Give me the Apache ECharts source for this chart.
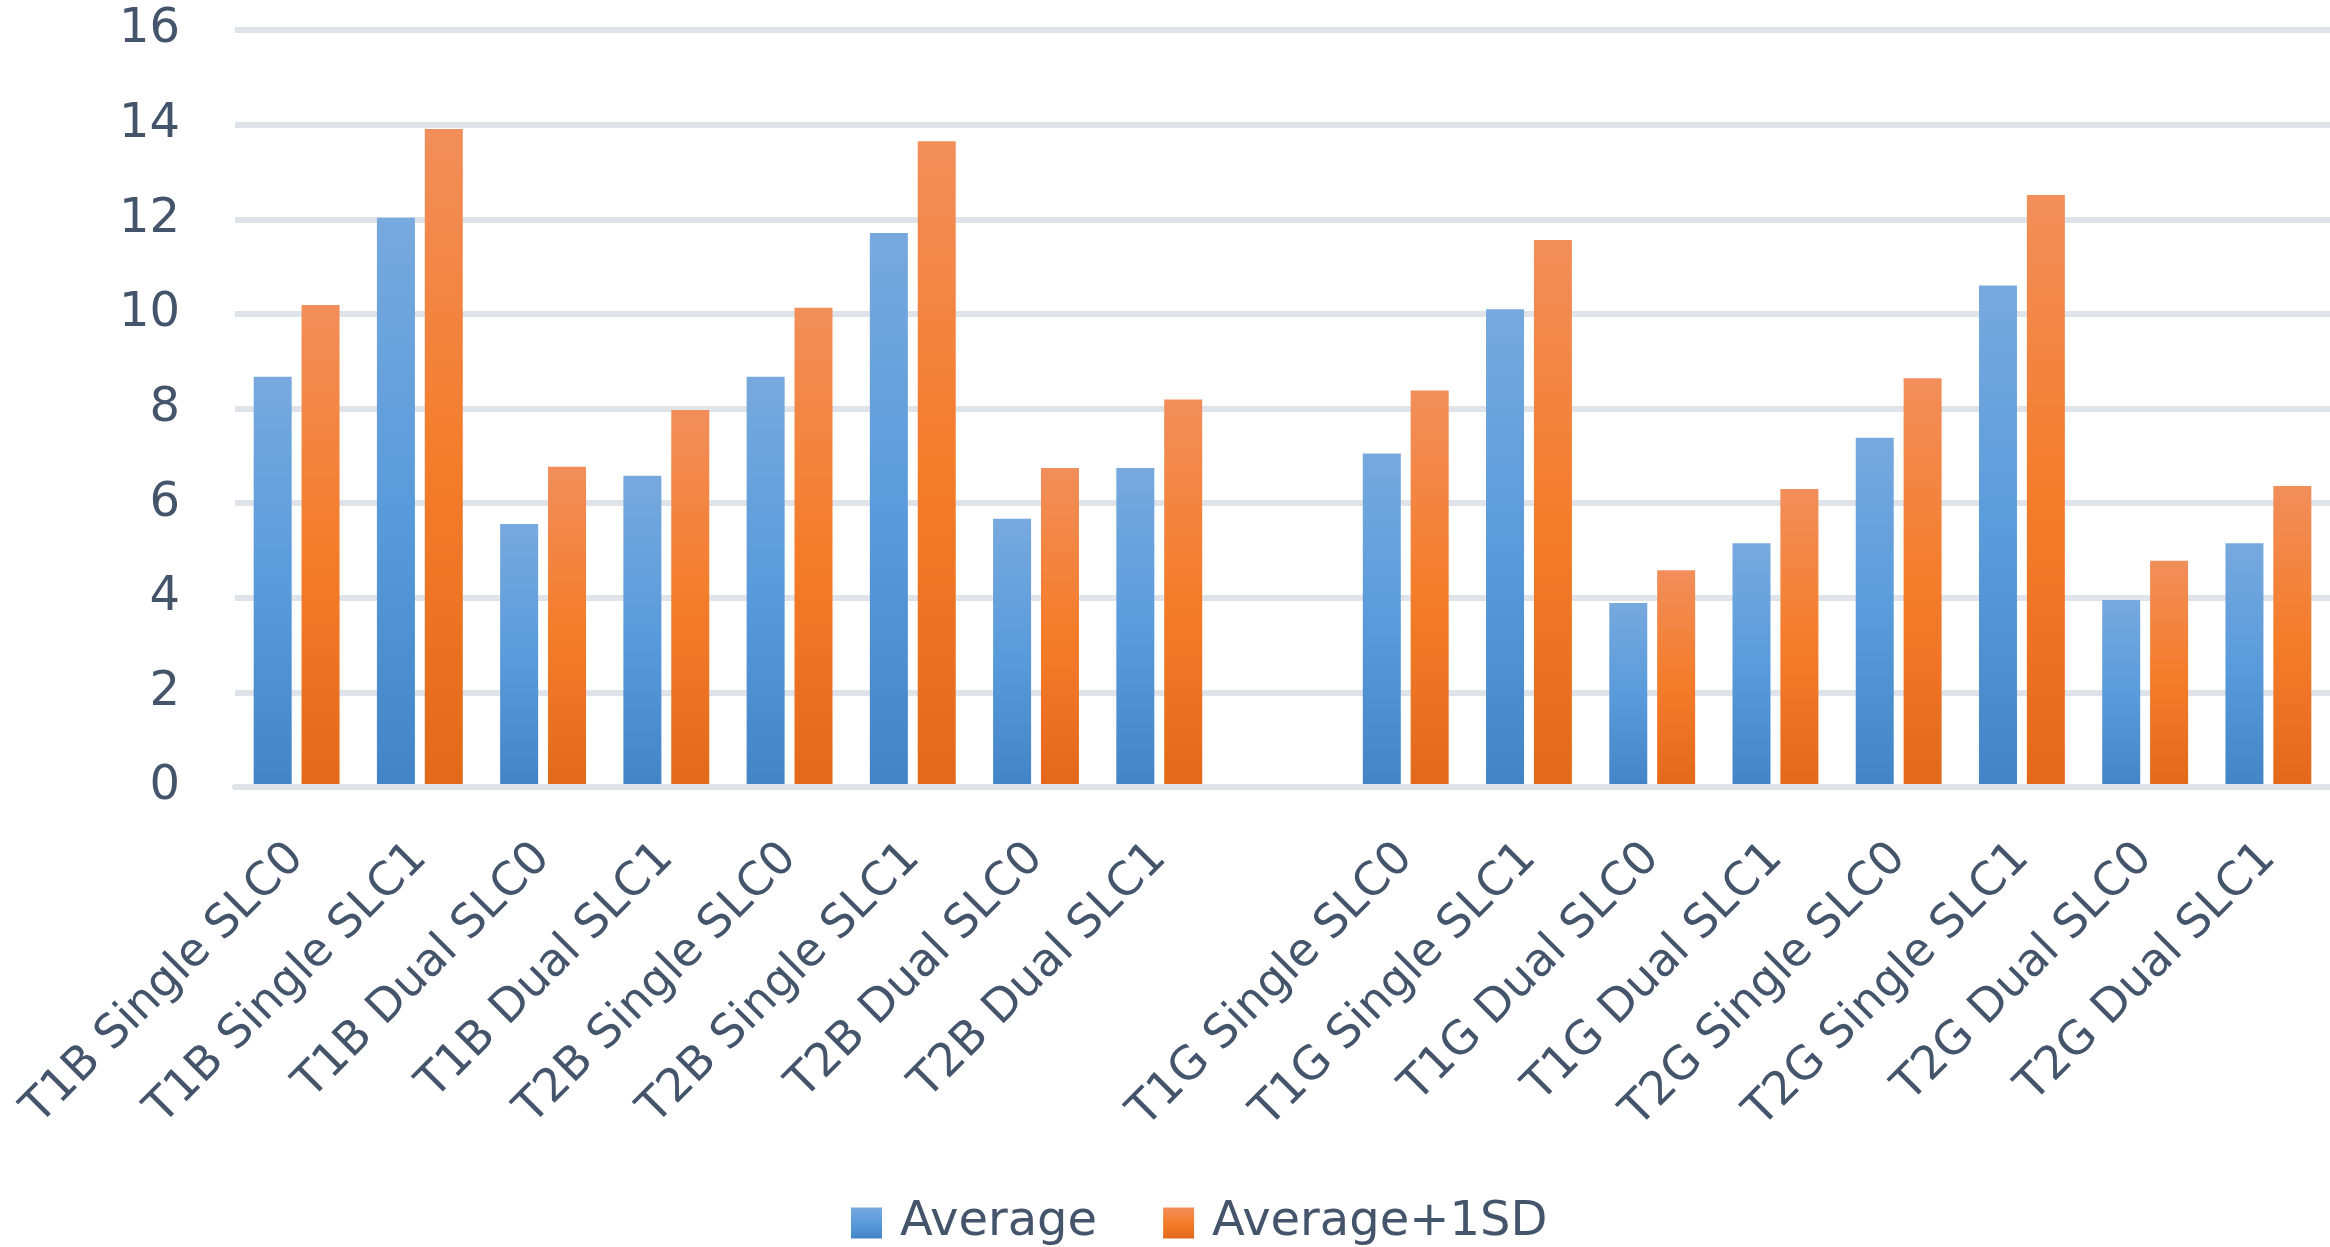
<!DOCTYPE html>
<html>
<head>
<meta charset="utf-8">
<title>Average vs Average+1SD</title>
<script src="https://cdn.jsdelivr.net/npm/echarts@6/dist/echarts.min.js"></script>
<style>
  html, body { margin: 0; padding: 0; background: #ffffff; }
  #chart { width: 2330px; height: 1247px; }
</style>
</head>
<body>
<div id="chart"></div>
<script>
// Categories: B group, an empty spacer slot, then G group
const categories = [
  'T1B Single SLC0', 'T1B Single SLC1', 'T1B Dual SLC0', 'T1B Dual SLC1',
  'T2B Single SLC0', 'T2B Single SLC1', 'T2B Dual SLC0', 'T2B Dual SLC1',
  '',
  'T1G Single SLC0', 'T1G Single SLC1', 'T1G Dual SLC0', 'T1G Dual SLC1',
  'T2G Single SLC0', 'T2G Single SLC1', 'T2G Dual SLC0', 'T2G Dual SLC1'
];

const averageValues = [
  8.67, 12.03, 5.56, 6.58, 8.67, 11.71, 5.67, 6.74,
  null,
  7.05, 10.10, 3.89, 5.15, 7.38, 10.60, 3.95, 5.15
];

const averagePlus1SDValues = [
  10.19, 13.91, 6.77, 7.97, 10.13, 13.65, 6.74, 8.19,
  null,
  8.38, 11.56, 4.58, 6.30, 8.64, 12.51, 4.78, 6.36
];

const yTicks = { min: 0, max: 16, interval: 2 };

const textColor = '#44546a';
const gridColor = '#dfe3ea';
const fontFamily = '"DejaVu Sans", "Open Sans", sans-serif';

function vGradient(stops) {
  return new echarts.graphic.LinearGradient(0, 0, 0, 1,
    stops.map(([offset, color]) => ({ offset, color })));
}

const blueFill = vGradient([[0, '#77a9de'], [0.5, '#5a9bdb'], [1, '#4284c5']]);
const orangeFill = vGradient([[0, '#f18e5a'], [0.5, '#f47d2c'], [1, '#e3691a']]);

const chart = echarts.init(document.getElementById('chart'), null, { renderer: 'canvas' });

chart.setOption({
  backgroundColor: '#ffffff',
  animation: false,
  textStyle: { fontFamily },
  grid: { left: 235, top: 30, width: 2100, height: 757, containLabel: false },
  legend: {
    left: 846,
    top: 1194,
    itemWidth: 31,
    itemHeight: 31,
    itemGap: 66,
    icon: 'rect',
    textStyle: {
      color: textColor,
      fontSize: 48,
      lineHeight: 48,
      fontFamily,
      padding: [0, 0, 0, 13]
    },
    data: ['Average', 'Average+1SD']
  },
  xAxis: {
    type: 'category',
    data: categories,
    z: 3,
    axisLine: { show: true, lineStyle: { color: gridColor, width: 6 } },
    axisTick: { show: false },
    axisLabel: {
      interval: 0,
      rotate: 45,
      margin: 64,
      color: textColor,
      fontSize: 46,
      fontFamily
    }
  },
  yAxis: {
    type: 'value',
    min: yTicks.min,
    max: yTicks.max,
    interval: yTicks.interval,
    axisLine: { show: false },
    axisTick: { show: false },
    splitLine: { show: true, lineStyle: { color: gridColor, width: 6 } },
    axisLabel: {
      margin: 55,
      color: textColor,
      fontSize: 48,
      fontFamily
    }
  },
  series: [
    {
      name: 'Average',
      type: 'bar',
      data: averageValues,
      barWidth: 38,
      barGap: '26%',
      itemStyle: { color: blueFill }
    },
    {
      name: 'Average+1SD',
      type: 'bar',
      data: averagePlus1SDValues,
      barWidth: 38,
      barGap: '26%',
      itemStyle: { color: orangeFill }
    }
  ]
});
</script>
</body>
</html>
